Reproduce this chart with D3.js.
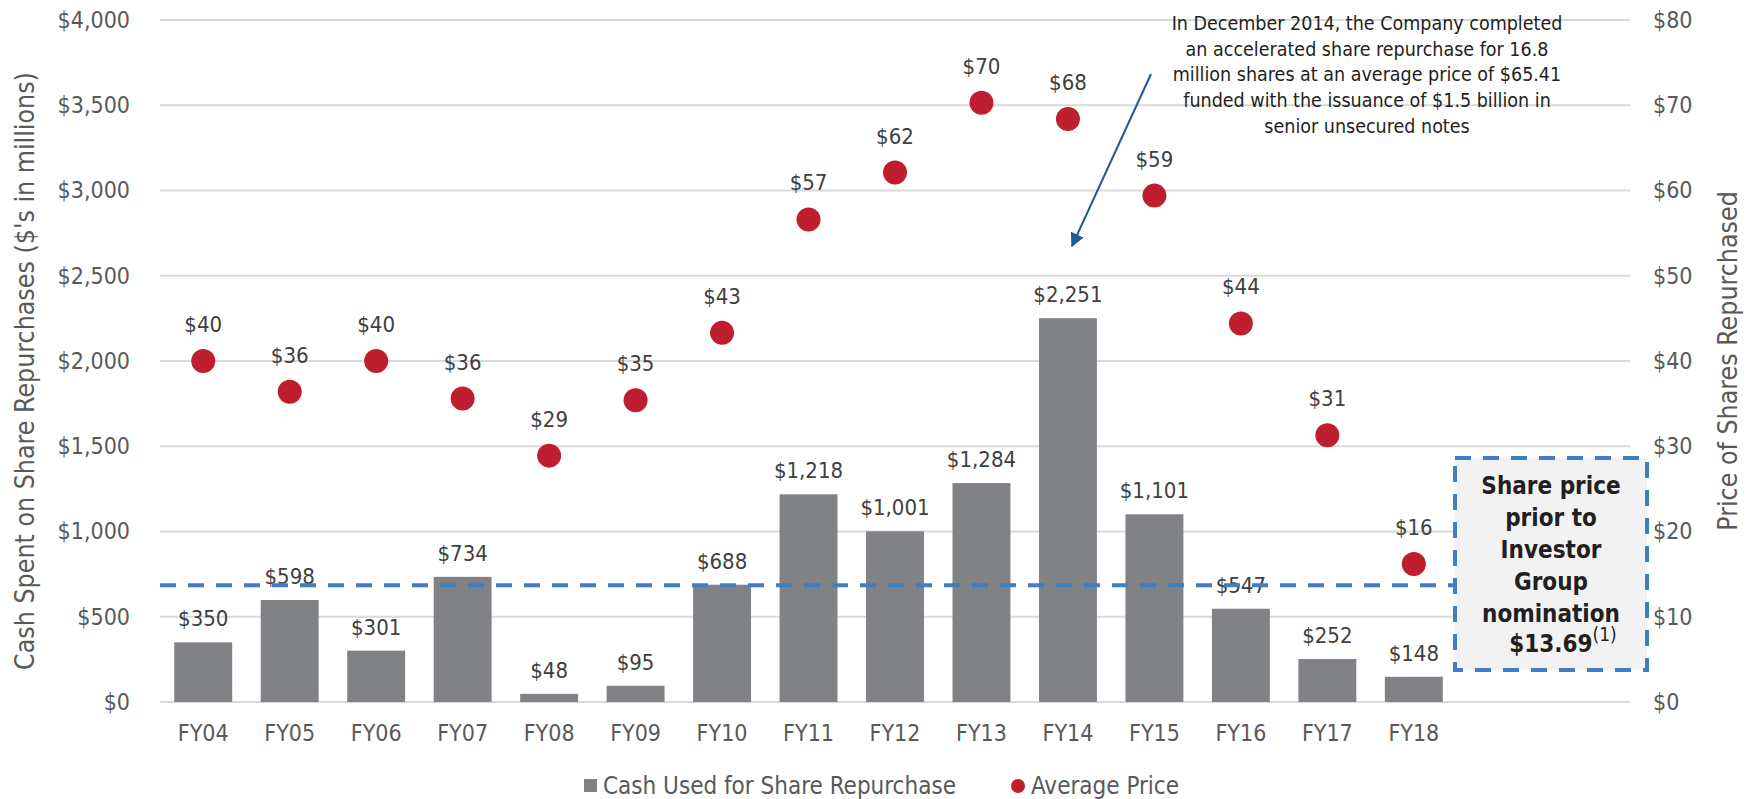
<!DOCTYPE html>
<html>
<head>
<meta charset="utf-8">
<script src="https://cdn.jsdelivr.net/npm/d3@7"></script>
<style>
  body { margin: 0; background: #fff; }
  svg text { font-family: "DejaVu Sans Condensed", "DejaVu Sans", sans-serif; font-stretch: condensed; }
</style>
</head>
<body>
<svg id="chart"></svg>
<script>
// chart data
const categories = ["FY04", "FY05", "FY06", "FY07", "FY08", "FY09", "FY10", "FY11", "FY12", "FY13", "FY14", "FY15", "FY16", "FY17", "FY18"];
const cashUsed = [350, 598, 301, 734, 48, 95, 688, 1218, 1001, 1284, 2251, 1101, 547, 252, 148];
const avgPrice = [40.0, 36.4, 40.0, 35.6, 28.9, 35.4, 43.3, 56.6, 62.1, 70.3, 68.4, 59.4, 44.4, 31.3, 16.2];
const cashTicks = [0, 500, 1000, 1500, 2000, 2500, 3000, 3500, 4000];
const priceTicks = [0, 10, 20, 30, 40, 50, 60, 70, 80];
const nominationPrice = 13.69;
const noteLines = ["In December 2014, the Company completed", "an accelerated share repurchase for 16.8",
  "million shares at an average price of $65.41", "funded with the issuance of $1.5 billion in", "senior unsecured notes"];
const boxLines = ["Share price", "prior to", "Investor", "Group", "nomination"];

const width = 1749, height = 799;
const plotLeft = 160, plotRight = 1630, plotTop = 20, plotBottom = 702;

const svg = d3.select("#chart").attr("width", width).attr("height", height);

// two empty slots after FY18 leave room for the box
const xDomain = categories.concat(["_a", "_b"]);
const x = d3.scaleBand().domain(xDomain).range([plotLeft, plotRight]).paddingInner(0.33).paddingOuter(0.165);
const yCash = d3.scaleLinear().domain([0, 4000]).range([plotBottom, plotTop]);
const yPrice = d3.scaleLinear().domain([0, 80]).range([plotBottom, plotTop]);

const fmtCash = d3.format("$,.0f");
const fmtPrice = d3.format("$.0f");

// gridlines
svg.append("g").selectAll("line").data(cashTicks).join("line")
  .attr("x1", plotLeft).attr("x2", plotRight)
  .attr("y1", d => yCash(d)).attr("y2", d => yCash(d))
  .attr("stroke", "#d9d9d9").attr("stroke-width", 2);

// left axis labels
const leftAxis = svg.append("g").attr("transform", `translate(${plotLeft - 30},0)`)
  .call(d3.axisLeft(yCash).tickValues(cashTicks).tickFormat(fmtCash).tickSize(0).tickPadding(0));
leftAxis.select(".domain").remove();
leftAxis.selectAll("text").attr("font-size", 23).attr("fill", "#595959").attr("font-family", null);

// right axis labels
const rightAxis = svg.append("g").attr("transform", `translate(${plotRight + 23},0)`)
  .call(d3.axisRight(yPrice).tickValues(priceTicks).tickFormat(fmtPrice).tickSize(0).tickPadding(0));
rightAxis.select(".domain").remove();
rightAxis.selectAll("text").attr("font-size", 23).attr("fill", "#595959").attr("font-family", null);

// category axis
const xAxis = svg.append("g").attr("transform", `translate(0,${plotBottom + 23})`)
  .call(d3.axisBottom(x).tickValues(categories).tickSize(0).tickPadding(0));
xAxis.select(".domain").remove();
xAxis.selectAll("text").attr("font-size", 23).attr("fill", "#595959").attr("font-family", null).attr("dy", "0.71em");

// axis titles
svg.append("text")
  .attr("transform", `translate(34,${(plotTop + plotBottom) / 2 + 10}) rotate(-90)`)
  .attr("text-anchor", "middle").attr("font-size", 26.5).attr("fill", "#595959")
  .text("Cash Spent on Share Repurchases  ($'s in millions)");
svg.append("text")
  .attr("transform", `translate(1737,${(plotTop + plotBottom) / 2}) rotate(-90)`)
  .attr("text-anchor", "middle").attr("font-size", 26.5).attr("fill", "#595959")
  .text("Price of Shares Repurchased");

// bars
svg.append("g").selectAll("rect").data(cashUsed).join("rect")
  .attr("x", (d, i) => x(categories[i]))
  .attr("width", x.bandwidth())
  .attr("y", d => yCash(d))
  .attr("height", d => yCash(0) - yCash(d))
  .attr("fill", "#808285");

svg.append("g").selectAll("text").data(cashUsed).join("text")
  .attr("x", (d, i) => x(categories[i]) + x.bandwidth() / 2)
  .attr("y", d => yCash(d) - 16)
  .attr("text-anchor", "middle").attr("font-size", 22).attr("fill", "#404040")
  .text(d => fmtCash(d));

// nomination price line
svg.append("line")
  .attr("x1", plotLeft).attr("x2", 1455)
  .attr("y1", yPrice(nominationPrice)).attr("y2", yPrice(nominationPrice))
  .attr("stroke", "#3f7ec0").attr("stroke-width", 4).attr("stroke-dasharray", "16,12");

// average price dots
svg.append("g").selectAll("circle").data(avgPrice).join("circle")
  .attr("cx", (d, i) => x(categories[i]) + x.bandwidth() / 2)
  .attr("cy", d => yPrice(d))
  .attr("r", 12)
  .attr("fill", "#be1e2d");

svg.append("g").selectAll("text").data(avgPrice).join("text")
  .attr("x", (d, i) => x(categories[i]) + x.bandwidth() / 2)
  .attr("y", d => yPrice(d) - 29)
  .attr("text-anchor", "middle").attr("font-size", 22).attr("fill", "#404040")
  .text(d => fmtPrice(d));

// box with the nomination price
svg.append("rect")
  .attr("x", 1455).attr("y", 458).attr("width", 192).attr("height", 212)
  .attr("fill", "#f2f2f2").attr("stroke", "#3f7ec0").attr("stroke-width", 4)
  .attr("stroke-dasharray", "16,12");

const boxText = svg.append("g").attr("font-size", 24).attr("font-weight", "bold").attr("fill", "#231f20")
  .attr("text-anchor", "middle");
boxLines.forEach((t, i) => {
  boxText.append("text").attr("x", 1551).attr("y", 494 + i * 32).text(t);
});
const last = boxText.append("text").attr("x", 1563).attr("y", 652);
last.append("tspan").text(d3.format("$.2f")(nominationPrice));
last.append("tspan").attr("font-size", 19).attr("font-weight", "normal").attr("dy", -11).text("(1)");

// note and arrow
const note = svg.append("g").attr("font-size", 19.5).attr("fill", "#231f20").attr("text-anchor", "middle");
noteLines.forEach((t, i) => {
  note.append("text").attr("x", 1367).attr("y", 30 + i * 25.7).text(t);
});

svg.append("defs").append("marker")
  .attr("id", "arrow").attr("viewBox", "0 0 10 10").attr("refX", 9).attr("refY", 5)
  .attr("markerWidth", 7).attr("markerHeight", 7).attr("markerUnits", "strokeWidth").attr("orient", "auto")
  .append("path").attr("d", "M0,0 L10,5 L0,10 Z").attr("fill", "#1f5a96");
svg.append("line")
  .attr("x1", 1151).attr("y1", 74).attr("x2", 1072).attr("y2", 246)
  .attr("stroke", "#1f5a96").attr("stroke-width", 2).attr("marker-end", "url(#arrow)");

// legend
const legend = svg.append("g").attr("font-size", 24).attr("fill", "#595959");
legend.append("rect").attr("x", 584).attr("y", 779).attr("width", 13).attr("height", 13).attr("fill", "#808285");
legend.append("text").attr("x", 603).attr("y", 794).text("Cash Used for Share Repurchase");
legend.append("circle").attr("cx", 1018).attr("cy", 786).attr("r", 7).attr("fill", "#be1e2d");
legend.append("text").attr("x", 1031).attr("y", 794).text("Average Price");
</script>
</body>
</html>
